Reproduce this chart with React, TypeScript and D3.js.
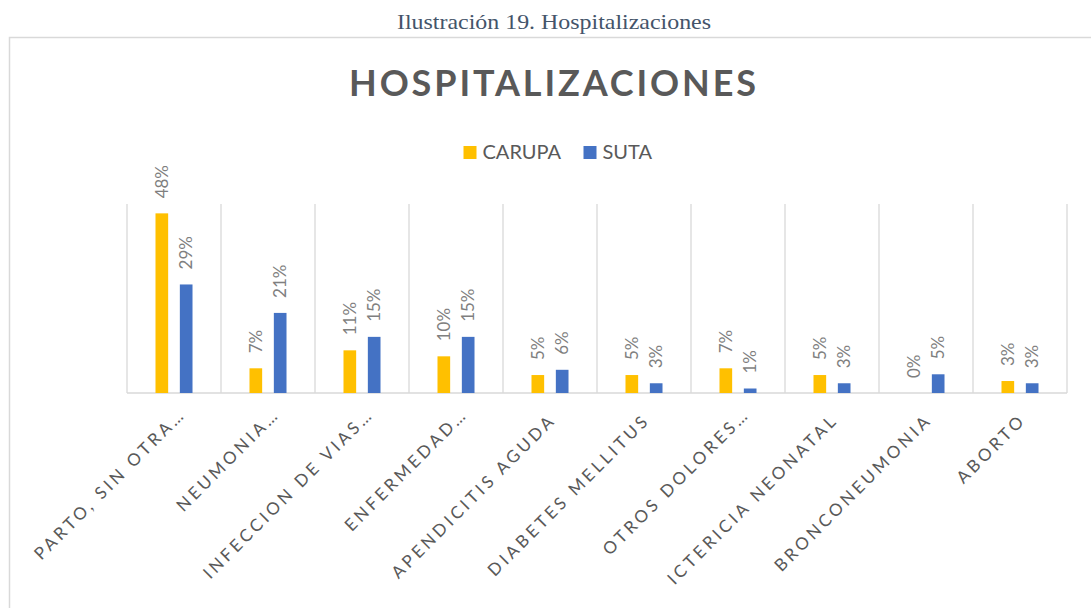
import * as d3 from 'd3'

// displayed category labels (Excel truncated the long ones)
const categories = [
  'PARTO, SIN OTRA…',
  'NEUMONIA…',
  'INFECCION DE VIAS…',
  'ENFERMEDAD…',
  'APENDICITIS AGUDA',
  'DIABETES MELLITUS',
  'OTROS DOLORES…',
  'ICTERICIA NEONATAL',
  'BRONCONEUMONIA',
  'ABORTO',
]
const seriesNames = ['CARUPA', 'SUTA']
const carupa = [0.48, 0.066, 0.114, 0.098, 0.048, 0.048, 0.066, 0.048, 0, 0.032]
const suta = [0.29, 0.214, 0.15, 0.15, 0.062, 0.026, 0.012, 0.026, 0.05, 0.026]
const colors = ['#FFC000', '#4472C4']
const chartTitle = 'HOSPITALIZACIONES'
const caption = 'Ilustración 19. Hospitalizaciones'

const W = 1091
const H = 608
const plot = { left: 127, right: 1067, top: 204, bottom: 393 }

const App = () => {
  const x0 = d3.scaleBand().domain(categories).range([plot.left, plot.right]).padding(0)
  const x1 = d3
    .scaleBand()
    .domain(seriesNames)
    .range([0, x0.bandwidth()])
    .paddingInner(0.48)
    .paddingOuter(1.17)
  const y = d3.scaleLinear().domain([0, 0.505]).range([plot.bottom, plot.top])
  const fmt = d3.format('.0%')
  const values = [carupa, suta]

  const font = 'Lato, "Open Sans", sans-serif'

  return (
    <svg
      width={W}
      height={H}
      style={{ position: 'absolute', left: 0, top: 0, overflow: 'hidden', background: '#fff' }}
    >
      {/* caption above the chart */}
      <text
        x={554}
        y={29}
        textAnchor="middle"
        fontFamily='"Liberation Serif", "Times New Roman", serif'
        fontSize={21}
        fill="#44546A"
        textLength={314}
        lengthAdjust="spacingAndGlyphs"
      >
        {caption}
      </text>

      {/* chart frame */}
      <rect x={9.5} y={37.5} width={W + 20} height={H + 20} fill="#fff" stroke="#d9d9d9" strokeWidth={1.5} />

      {/* title */}
      <text
        x={552.5}
        y={96}
        textAnchor="middle"
        fontFamily={font}
        fontWeight={700}
        fontSize={36}
        fill="#595959"
        textLength={407}
        lengthAdjust="spacing"
      >
        {chartTitle}
      </text>

      {/* legend */}
      {seriesNames.map((s, i) => {
        const lx = [463.5, 583.5][i]
        return (
          <g key={s}>
            <rect x={lx} y={146} width={13} height={13} fill={colors[i]} />
            <text x={lx + 19} y={158.5} fontFamily={font} fontSize={20} fill="#595959">
              {s}
            </text>
          </g>
        )
      })}

      {/* category separators */}
      {d3.range(categories.length + 1).map((i) => {
        const gx = plot.left + i * x0.step()
        return (
          <line key={i} x1={gx} x2={gx} y1={plot.top} y2={plot.bottom} stroke="#d9d9d9" strokeWidth={1.3} />
        )
      })}
      <line x1={plot.left} x2={plot.right} y1={plot.bottom} y2={plot.bottom} stroke="#d9d9d9" strokeWidth={1.5} />

      {/* bars + data labels */}
      {categories.map((c, ci) => (
        <g key={c} transform={`translate(${x0(c)},0)`}>
          {seriesNames.map((s, si) => {
            const v = values[si][ci]
            const bx = x1(s) as number
            const top = y(v)
            return (
              <g key={s}>
                <rect x={bx} y={top} width={x1.bandwidth()} height={plot.bottom - top} fill={colors[si]} />
                <text
                  transform={`translate(${bx + x1.bandwidth() / 2},${top - 15}) rotate(-90)`}
                  dy="0.35em"
                  fontFamily={font}
                  fontSize={17}
                  fill="#7f7f7f"
                >
                  {fmt(v)}
                </text>
              </g>
            )
          })}
        </g>
      ))}

      {/* category labels */}
      {categories.map((c) => {
        const cx = (x0(c) as number) + x0.bandwidth() / 2
        const cut = c.endsWith('…')
        return (
          <text
            key={c}
            transform={`translate(${cx + 7},${plot.bottom + 28}) rotate(-45)`}
            dx={cut ? 8 : 0}
            textAnchor="end"
            fontFamily={font}
            fontSize={17}
            letterSpacing={3.4}
            fill="#595959"
          >
            {c}
          </text>
        )
      })}
    </svg>
  )
}

export default App
